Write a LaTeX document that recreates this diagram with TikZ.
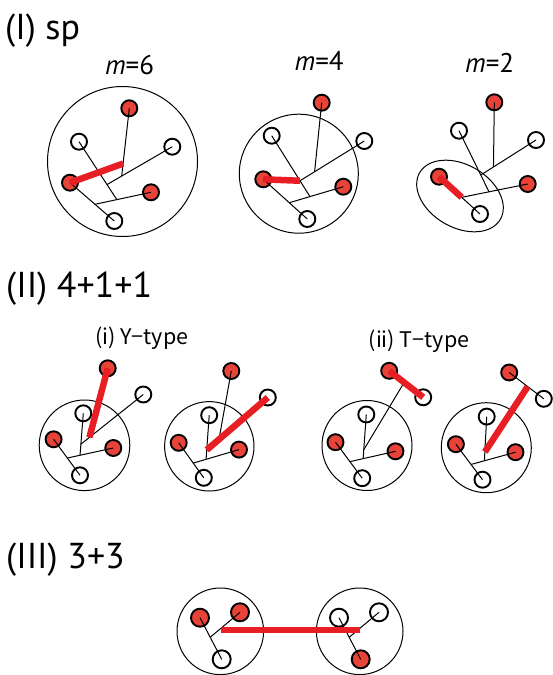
\documentclass[tikz,border=0pt]{standalone}
\usepackage{fontspec}
\setmainfont{PT Sans}
\newfontfamily\jpfont{Noto Sans CJK JP}
\usetikzlibrary{calc}
\definecolor{nodered}{RGB}{232,67,56}
\definecolor{barred}{RGB}{232,30,37}
\tikzset{
  rn/.style={circle, draw=black, fill=nodered, line width=1.9pt, minimum size=16pt, inner sep=0pt},
  on/.style={circle, draw=black, fill=white, line width=1.9pt, minimum size=16pt, inner sep=0pt},
  rnb/.style={rn, minimum size=18pt},
  onb/.style={on, minimum size=18pt},
  tl/.style={line width=1pt, draw=black},
  bar/.style={line width=6.5pt, draw=barred},
  grp/.style={line width=1pt, draw=black},
  lbl/.style={inner sep=0pt, font=\fontsize{36}{40}\selectfont},
  mlbl/.style={inner sep=0pt, font=\fontsize{27}{30}\selectfont},
  jlbl/.style={inner sep=0pt, font=\jpfont\fontsize{21.5}{25}\selectfont},
}
\begin{document}
\begin{tikzpicture}[x=1pt, y=-1pt]
\useasboundingbox (0,0) rectangle (553,675);

% ---------- labels ----------
\node[lbl, anchor=base west] (t1) at (5,39.3) {(I) sp};
\node[lbl, anchor=base west] (t2) at (6,297.7) {(II) 4+1+1};
\node[lbl, anchor=base west] (t3) at (6,568.3) {(III) 3+3};
\node[mlbl, anchor=base] (m6) at (129.5,74) {\textit{m}=6};
\node[mlbl, anchor=base] (m4) at (319.2,70) {\textit{m}=4};
\node[mlbl, anchor=base] (m2) at (489.7,72) {\textit{m}=2};
\node[jlbl, anchor=base] (ty) at (141.7,344.3) {(i) Y−type};
\node[jlbl, anchor=base] (tt) at (419,347.7) {(ii) T−type};

% ---------- (I) m=6 ----------
\draw[grp] (122.5,161.5) circle [radius=75];
\node[rn] (aT) at (129.3,108.3) {};
\node[on] (aUL) at (79,141.7) {};
\node[on] (aR) at (172.3,146.7) {};
\node[rn] (aL) at (70,182.7) {};
\node[rn] (aRR) at (151,192.3) {};
\node[on] (aB) at (114.3,221) {};
\coordinate (aJA) at ($(aL.center)!0.564!(aB.center)$);
\coordinate (aJB) at ($(aJA)!0.39!(aRR.center)$);
\coordinate (aJC) at ($(aUL.center)!0.74!(aJB)$);
\coordinate (aJD) at ($(aR.center)!0.775!(aJC)$);
\coordinate (aJE) at ($(aT.center)!0.816!(aJD)$);
\draw[tl] (aL.center) -- (aB.center);
\draw[tl] (aJA) -- (aRR.center);
\draw[tl] (aUL.center) -- (aJB);
\draw[tl] (aR.center) -- (aJC);
\draw[tl] (aT.center) -- (aJD);
\draw[bar] (aL.center) -- (aJE);

% ---------- (I) m=4 ----------
\draw[grp] (298.8,173.7) circle [radius=59.5];
\node[rn] (bT) at (321.7,102.7) {};
\node[on] (bUL) at (271.7,135.7) {};
\node[on] (bR) at (364.3,141) {};
\node[rn] (bL) at (263.3,179.3) {};
\node[rn] (bRR) at (343.3,186.7) {};
\node[on] (bB) at (307.3,219) {};
\coordinate (bJA) at ($(bL.center)!0.59!(bB.center)$);
\coordinate (bJB) at ($(bJA)!0.383!(bRR.center)$);
\coordinate (bJC) at ($(bUL.center)!0.74!(bJB)$);
\coordinate (bJD) at ($(bR.center)!0.773!(bJC)$);
\draw[tl] (bL.center) -- (bB.center);
\draw[tl] (bJA) -- (bRR.center);
\draw[tl] (bUL.center) -- (bJB);
\draw[tl] (bR.center) -- (bJC);
\draw[tl] (bT.center) -- (bJD);
\draw[bar] (bL.center) -- (bJC);

% ---------- (I) m=2 ----------
\draw[grp, rotate around={-30:(460,196)}] (460,196) ellipse [x radius=46.6, y radius=31.4];
\node[rn] (cT) at (494.3,102.3) {};
\node[on] (cUL) at (459,130.7) {};
\node[on] (cR) at (536,140) {};
\node[rn] (cL) at (439,176.7) {};
\node[rn] (cRR) at (527.7,184) {};
\node[on] (cB) at (480,214) {};
\coordinate (cJA) at ($(cL.center)!0.553!(cB.center)$);
\coordinate (cJB) at ($(cJA)!0.414!(cRR.center)$);
\coordinate (cJC) at ($(cUL.center)!0.725!(cJB)$);
\coordinate (cJD) at ($(cR.center)!0.77!(cJC)$);
\draw[tl] (cL.center) -- (cB.center);
\draw[tl] (cJA) -- (cRR.center);
\draw[tl] (cUL.center) -- (cJB);
\draw[tl] (cR.center) -- (cJC);
\draw[tl] (cT.center) -- (cJD);
\draw[bar] (cL.center) -- (cJA);

% ---------- (II)(i) left ----------
\draw[grp] (84.5,445.3) circle [radius=45.3];
\node[rn] (dT) at (107.7,368.3) {};
\node[on] (dR) at (143.3,394.5) {};
\node[on] (dUL) at (83.3,413.3) {};
\node[rn] (dL) at (53.6,439.3) {};
\node[rn] (dRR) at (113.3,448) {};
\node[on] (dB) at (80,475.3) {};
\coordinate (dJA) at ($(dL.center)!0.52!(dB.center)$);
\coordinate (dJB) at ($(dJA)!0.276!(dRR.center)$);
\coordinate (dJC) at ($(dUL.center)!0.736!(dJB)$);
\coordinate (dJD) at ($(dR.center)!0.863!(dJC)$);
\draw[tl] (dL.center) -- (dB.center);
\draw[tl] (dJA) -- (dRR.center);
\draw[tl] (dUL.center) -- (dJB);
\draw[tl] (dR.center) -- (dJC);
\draw[bar] (dT.center) -- (dJD);

% ---------- (II)(i) right ----------
\draw[grp] (209.3,446.3) circle [radius=44.7];
\node[rn] (eT) at (231.3,371) {};
\node[on] (eR) at (267.8,397.5) {};
\node[on] (eUL) at (209.2,415.2) {};
\node[rn] (eL) at (178.7,442.8) {};
\node[rn] (eRR) at (239,449.6) {};
\node[on] (eB) at (203.8,477.8) {};
\coordinate (eJA) at ($(eL.center)!0.58!(eB.center)$);
\coordinate (eJB) at ($(eJA)!0.28!(eRR.center)$);
\coordinate (eJC) at ($(eUL.center)!0.787!(eJB)$);
\coordinate (eJD) at ($(eR.center)!0.8!(eJC)$);
\draw[tl] (eL.center) -- (eB.center);
\draw[tl] (eJA) -- (eRR.center);
\draw[tl] (eUL.center) -- (eJB);
\draw[tl] (eT.center) -- (eJD);
\draw[bar] (eR.center) -- (eJC);

% ---------- (II)(ii) left ----------
\draw[grp] (367,445.5) circle [radius=45];
\node[rn] (fT) at (389.2,370.8) {};
\node[on] (fR) at (423.2,397.3) {};
\node[on] (fUL) at (366.3,414.5) {};
\node[rn] (fL) at (335.5,442.2) {};
\node[rn] (fRR) at (395.5,451.3) {};
\node[on] (fB) at (362.2,478.2) {};
\coordinate (fJA) at ($(fL.center)!0.54!(fB.center)$);
\coordinate (fJB) at ($(fJA)!0.29!(fRR.center)$);
\coordinate (fJC) at ($(fUL.center)!0.8!(fJB)$);
\coordinate (fJD) at ($(fT.center)!0.44!(fR.center)$);
\draw[tl] (fL.center) -- (fB.center);
\draw[tl] (fJA) -- (fRR.center);
\draw[tl] (fUL.center) -- (fJB);
\draw[tl] (fJD) -- (fJC);
\draw[bar] (fT.center) -- (fR.center);

% ---------- (II)(ii) right ----------
\draw[grp] (486.3,447.7) circle [radius=45];
\node[rn] (gT) at (509.2,372.5) {};
\node[on] (gR) at (543.8,398.8) {};
\node[on] (gUL) at (486.7,416.6) {};
\node[rn] (gL) at (455.9,444.2) {};
\node[rn] (gRR) at (515.5,452.2) {};
\node[on] (gB) at (482.5,479.7) {};
\coordinate (gJA) at ($(gL.center)!0.57!(gB.center)$);
\coordinate (gJB) at ($(gJA)!0.3!(gRR.center)$);
\coordinate (gJC) at ($(gUL.center)!0.8!(gJB)$);
\coordinate (gJD) at ($(gT.center)!0.535!(gR.center)$);
\draw[tl] (gL.center) -- (gB.center);
\draw[tl] (gJA) -- (gRR.center);
\draw[tl] (gUL.center) -- (gJB);
\draw[tl] (gT.center) -- (gR.center);
\draw[bar] (gJD) -- (gJC);

% ---------- (III) 3+3 ----------
\draw[grp] (220.3,631.3) circle [radius=43.3];
\node[rnb] (hUL) at (200,617.7) {};
\node[rnb] (hUR) at (240,612.3) {};
\node[onb] (hB) at (221.7,659.3) {};
\coordinate (hJ) at ($(hUL.center)!0.47!(hB.center)$);
\draw[tl] (hUL.center) -- (hB.center);
\draw[tl] (hUR.center) -- (hJ);

\draw[grp] (359.7,631.3) circle [radius=43.3];
\node[onb] (kUL) at (339,617.7) {};
\node[onb] (kUR) at (379,612.3) {};
\node[rnb] (kB) at (360.7,659.3) {};
\coordinate (kJ) at ($(kUL.center)!0.47!(kB.center)$);
\draw[tl] (kUL.center) -- (kB.center);
\draw[tl] (kUR.center) -- (kJ);

\coordinate (barL) at (220.7,630);
\coordinate (barR) at (360,630);
\draw[bar] (barL) -- (barR);
\end{tikzpicture}
\end{document}
